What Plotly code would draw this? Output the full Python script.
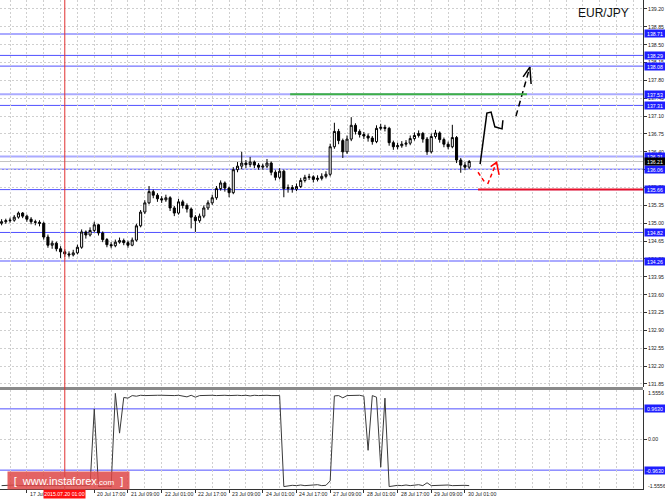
import plotly.graph_objects as go

# ---------------- data ----------------
bar_idx = list(range(112))  # H2-like bars, 16 Jul 17:00 .. 30 Jul

opens = [135.00,135.03,135.05,135.06,135.12,135.20,135.14,135.08,135.03,135.02,
         135.00,134.73,134.57,134.61,134.50,134.44,134.40,134.38,134.42,134.53,
         134.83,134.77,134.86,134.97,134.81,134.68,134.58,134.56,134.63,134.66,
         134.62,134.57,134.67,134.95,135.22,135.40,135.62,135.55,135.48,135.46,
         135.50,135.30,135.20,135.42,135.35,135.28,135.12,135.05,135.14,135.30,
         135.40,135.50,135.68,135.79,135.69,135.60,136.05,136.12,136.18,136.15,
         136.20,136.14,136.10,136.12,136.18,136.00,135.90,136.02,135.68,135.70,
         135.67,135.72,135.84,135.90,135.91,135.86,135.88,135.92,135.96,136.50,
         136.80,136.62,136.40,136.65,136.92,136.80,136.74,136.71,136.67,136.60,
         136.86,136.88,136.86,136.58,136.50,136.52,136.55,136.57,136.66,136.72,
         136.76,136.65,136.40,136.70,136.77,136.64,136.55,136.50,136.68,136.24,
         136.14,136.10]

closes = [135.03,135.05,135.06,135.12,135.20,135.14,135.08,135.03,135.02,135.00,
          134.73,134.57,134.61,134.50,134.44,134.40,134.38,134.42,134.53,134.83,
          134.77,134.86,134.97,134.81,134.68,134.58,134.56,134.63,134.66,134.62,
          134.57,134.67,134.95,135.22,135.40,135.62,135.55,135.48,135.46,135.50,
          135.30,135.20,135.42,135.35,135.28,135.12,135.05,135.14,135.30,135.40,
          135.50,135.68,135.79,135.69,135.60,136.05,136.12,136.18,136.15,136.20,
          136.14,136.10,136.12,136.18,136.00,135.90,136.02,135.68,135.70,135.67,
          135.72,135.84,135.90,135.91,135.86,135.88,135.92,135.96,136.50,136.80,
          136.62,136.40,136.65,136.92,136.80,136.74,136.71,136.67,136.60,136.86,
          136.88,136.86,136.58,136.50,136.52,136.55,136.57,136.66,136.72,136.76,
          136.65,136.40,136.70,136.77,136.64,136.55,136.50,136.68,136.24,136.14,
          136.10,136.21]

highs = [135.08,135.09,135.11,135.16,135.23,135.22,135.17,135.12,135.07,135.06,
         135.03,134.78,134.66,134.64,134.55,134.49,134.45,134.48,134.58,134.88,
         134.86,134.92,135.03,134.99,134.84,134.71,134.63,134.68,134.72,134.70,
         134.66,134.72,134.99,135.26,135.45,135.73,135.66,135.59,135.53,135.56,
         135.53,135.34,135.48,135.46,135.39,135.31,135.16,135.19,135.35,135.45,
         135.56,135.73,135.84,135.82,135.72,136.10,136.20,136.40,136.24,136.30,
         136.23,136.18,136.17,136.26,136.21,136.04,136.08,136.05,135.76,135.75,
         135.78,135.89,135.95,135.97,135.94,135.94,135.98,136.02,136.56,136.97,
         136.85,136.66,136.72,137.08,136.96,136.84,136.79,136.76,136.71,136.92,
         136.95,136.93,136.89,136.62,136.58,136.61,136.63,136.72,136.78,136.82,
         136.79,136.69,136.76,136.83,136.80,136.68,136.60,136.93,136.71,136.28,
         136.20,136.24]

lows = [134.96,134.99,135.01,135.03,135.09,135.10,135.03,134.98,134.96,134.94,
        134.68,134.52,134.50,134.45,134.32,134.34,134.33,134.35,134.39,134.50,
        134.70,134.74,134.82,134.76,134.63,134.53,134.51,134.53,134.60,134.57,
        134.52,134.55,134.64,134.92,135.18,135.37,135.49,135.42,135.40,135.42,
        135.24,135.14,135.17,135.29,135.21,134.90,134.83,135.01,135.10,135.26,
        135.36,135.46,135.64,135.62,135.51,135.57,136.00,136.06,136.08,136.10,
        136.08,136.05,136.05,136.08,135.94,135.84,135.86,135.51,135.60,135.60,
        135.63,135.69,135.80,135.85,135.80,135.82,135.84,135.88,135.92,136.46,
        136.55,136.28,136.36,136.61,136.74,136.68,136.65,136.60,136.54,136.57,
        136.82,136.80,136.52,136.44,136.45,136.48,136.50,136.53,136.62,136.68,
        136.58,136.34,136.37,136.66,136.58,136.49,136.45,136.47,136.18,135.99,
        136.04,136.06]

indicator = [-1.45,-1.44,-1.45,-1.43,-1.45,-1.44,-1.45,-1.45,-1.44,-1.45,
             -1.45,-1.44,-1.45,-1.45,-1.44,-1.45,-1.45,-1.44,-1.45,-1.45,
             -1.44,-1.45, 0.96,-1.48,-1.47,-1.46,-1.48, 1.45, 0.20, 1.32,
             1.30, 1.38, 1.36, 1.39, 1.38, 1.39, 1.38, 1.39, 1.39, 1.38,
             1.39, 1.38, 1.39, 1.37, 1.34, 1.39, 1.33, 1.38, 1.39, 1.38,
             1.39, 1.38, 1.39, 1.39, 1.38, 1.39, 1.39, 1.38, 1.39, 1.37,
             1.39, 1.38, 1.39, 1.39, 1.38, 1.39, 1.38,-1.48,-1.45,-1.44,
             -1.45,-1.43,-1.45,-1.44,-1.45,-1.42,-1.45,-1.44,-1.30, 1.37,
             1.38, 1.31, 1.38, 1.39, 1.38, 1.39, 1.36,-0.34, 1.38, 1.33,
             -0.87, 1.30,-1.48,-1.45,-1.44,-1.45,-1.43,-1.45,-1.44,-1.42,
             -1.45,-1.36,-1.45,-1.44,-1.45,-1.44,-1.43,-1.45,-1.44,-1.45,
             -1.44,-1.45]

# horizontal levels
blue_levels = [138.71, 138.29, 138.08, 137.53, 137.31, 136.31, 136.06, 135.66, 134.82, 134.26]
light_levels = [138.71, 137.53, 136.31, 134.26]
ind_levels = [0.9630, -0.9630]
green_level = 137.53
green_from, green_to = 68.5, 124.7
red_level = 135.66
red_from = 113.1

# price axis ticks (136.05 is fully hidden behind the level boxes in the reference)
price_ticks = [139.20, 138.85, 138.50, 138.15, 137.80, 137.45, 137.10, 136.75, 136.40, 136.05, 135.70,
               135.35, 135.00, 134.65, 134.30, 133.95, 133.60, 133.25, 132.90, 132.55, 132.20, 131.85]
price_tick_text = ["139.20", "138.85", "138.50", "138.15", "137.80", "137.45", "137.10", "136.75", "136.40",
                   "", "135.70", "135.35", "135.00", "134.65", "134.30", "133.95", "133.60", "133.25",
                   "132.90", "132.55", "132.20", "131.85"]

# time axis ticks (the 20 Jul 01:00 slot is covered by the vertical-line label)
time_tick_pos = [-2, 6, 14, 22, 30, 38, 46, 54, 62, 70, 78, 86, 94, 102, 110]
time_tick_text = ["16 Jul 17:00", "17 Jul 09:00", "", "20 Jul 17:00", "21 Jul 09:00",
                  "22 Jul 01:00", "22 Jul 17:00", "23 Jul 09:00", "24 Jul 01:00", "24 Jul 17:00",
                  "27 Jul 09:00", "28 Jul 01:00", "28 Jul 17:00", "29 Jul 09:00", "30 Jul 01:00"]
vline_pos = 15
vline_label = "2015.07.20 01:00"

# forecast drawings (bar index, price)
fc_black_x = [113.6, 115.2, 116.2, 117.1, 118.8, 119.0]
fc_black_y = [136.16, 137.16, 137.18, 136.89, 136.85, 137.02]
fc_dash_x = [122.1, 125.4]
fc_dash_y = [137.10, 138.06]
fc_dash_head_x = [123.8, 125.4, 125.7]
fc_dash_head_y = [137.87, 138.06, 137.73]
fc_red_x = [113.1, 114.8, None, 115.4, 117.5]
fc_red_y = [136.00, 135.79, None, 135.77, 136.195]
fc_red_head_x = [116.1, 117.5, 118.1]
fc_red_head_y = [136.11, 136.195, 135.95]

# ---------------- layout geometry ----------------
W, H = 665, 499
MR, MB = 22, 10
PLOT_H = H - MB               # 489
MAIN_BOTTOM_PX = 387
IND_TOP_PX = 390
PX_PER_BAR = 4.2125
X0 = -1.6 / PX_PER_BAR
X1 = X0 + (W - MR) / PX_PER_BAR
PRICE_TOP = 139.376
PRICE_BOTTOM = 131.791
IND_MAX, IND_MIN = 1.5556, -1.5556

FONT = "Liberation Sans, Arial, sans-serif"
SMALL = 5.2
GRID = "#cfcfcf"
GRID_DASH = "2px,2px"
BLUE = "rgb(80,80,255)"
LIGHT_BLUE = "rgb(170,170,255)"
LABEL_BLUE = "#1e1eff"

fig = go.Figure()

fig.add_trace(go.Candlestick(
    x=bar_idx, open=opens, high=highs, low=lows, close=closes,
    increasing=dict(line=dict(color="black", width=1), fillcolor="white"),
    decreasing=dict(line=dict(color="black", width=1), fillcolor="black"),
    whiskerwidth=0, xaxis="x", yaxis="y", hoverinfo="skip", showlegend=False))

fig.add_trace(go.Scatter(x=bar_idx, y=indicator, mode="lines",
                         line=dict(color="#3a3a3a", width=1), xaxis="x", yaxis="y2",
                         hoverinfo="skip", showlegend=False))

# forecast drawings
fig.add_trace(go.Scatter(x=fc_black_x, y=fc_black_y, mode="lines",
                         line=dict(color="black", width=1.5), xaxis="x", yaxis="y",
                         hoverinfo="skip", showlegend=False))
fig.add_trace(go.Scatter(x=fc_dash_x, y=fc_dash_y, mode="lines",
                         line=dict(color="black", width=1.5, dash="6px,4px"), xaxis="x", yaxis="y",
                         hoverinfo="skip", showlegend=False))
fig.add_trace(go.Scatter(x=fc_dash_head_x, y=fc_dash_head_y, mode="lines",
                         line=dict(color="black", width=1.5), xaxis="x", yaxis="y",
                         hoverinfo="skip", showlegend=False))
fig.add_trace(go.Scatter(x=fc_red_x, y=fc_red_y, mode="lines", connectgaps=False,
                         line=dict(color="red", width=1.5, dash="4px,3px"), xaxis="x", yaxis="y",
                         hoverinfo="skip", showlegend=False))
fig.add_trace(go.Scatter(x=fc_red_head_x, y=fc_red_head_y, mode="lines",
                         line=dict(color="red", width=1.5), xaxis="x", yaxis="y",
                         hoverinfo="skip", showlegend=False))

shapes = []
for lv in blue_levels:
    light = lv in light_levels
    shapes.append(dict(type="line", xref="paper", x0=0, x1=1, yref="y", y0=lv, y1=lv,
                       line=dict(color=LIGHT_BLUE if light else BLUE, width=2 if light else 1),
                       layer="below"))
for lv in ind_levels:
    shapes.append(dict(type="line", xref="paper", x0=0, x1=1, yref="y2", y0=lv, y1=lv,
                       line=dict(color=BLUE, width=1), layer="below"))
# current price line
shapes.append(dict(type="line", xref="paper", x0=0, x1=1, yref="y", y0=closes[-1], y1=closes[-1],
                   line=dict(color="#c4c4c4", width=1), layer="below"))
# green and red levels
shapes.append(dict(type="line", xref="x", x0=green_from, x1=green_to, yref="y", y0=green_level,
                   y1=green_level, line=dict(color="#3cb044", width=2)))
shapes.append(dict(type="line", xref="x", x0=red_from, x1=X1, yref="y", y0=red_level,
                   y1=red_level, line=dict(color="#e8102a", width=2)))
# separator between panels
sep_y = (PLOT_H - (MAIN_BOTTOM_PX + 1.5)) / PLOT_H
shapes.append(dict(type="line", xref="paper", x0=0, x1=1, yref="paper", y0=sep_y, y1=sep_y,
                   line=dict(color="#8a8a8a", width=3)))
# vertical marker line
shapes.append(dict(type="line", xref="x", x0=vline_pos, x1=vline_pos, yref="paper", y0=-0.01, y1=1,
                   line=dict(color="#e03030", width=1)))

annotations = []
# time labels
lab_y = (PLOT_H - 494) / PLOT_H
for pos, txt in zip(time_tick_pos, time_tick_text):
    if not txt:
        continue
    annotations.append(dict(x=pos, xref="x", y=lab_y, yref="paper", text=txt, showarrow=False,
                            xanchor="left", yanchor="middle", xshift=1,
                            font=dict(family=FONT, size=SMALL, color="#222")))
# vertical line time box
annotations.append(dict(x=vline_pos, xref="x", y=lab_y, yref="paper", text=vline_label,
                        showarrow=False, xanchor="center", yanchor="middle",
                        bgcolor="#ff1010", width=41, height=8, borderpad=0,
                        font=dict(family=FONT, size=SMALL, color="white")))
# level boxes on the price scale
for lv in blue_levels:
    annotations.append(dict(x=1, xref="paper", y=lv, yref="y", text=f"{lv:.2f}", showarrow=False,
                            xanchor="left", yanchor="middle", xshift=1, bgcolor=LABEL_BLUE,
                            width=20, height=7, borderpad=0,
                            font=dict(family=FONT, size=SMALL, color="white")))
annotations.append(dict(x=1, xref="paper", y=closes[-1], yref="y", text=f"{closes[-1]:.2f}",
                        showarrow=False, xanchor="left", yanchor="middle", xshift=1, bgcolor="black",
                        width=20, height=7, borderpad=0,
                        font=dict(family=FONT, size=SMALL, color="white")))
for lv in ind_levels:
    annotations.append(dict(x=1, xref="paper", y=lv, yref="y2", text=f"{lv:.4f}", showarrow=False,
                            xanchor="left", yanchor="middle", xshift=1, bgcolor=LABEL_BLUE,
                            width=20, height=7, borderpad=0,
                            font=dict(family=FONT, size=SMALL, color="white")))
# indicator scale end labels
for val, py in [(IND_MAX, 393), (IND_MIN, 486)]:
    annotations.append(dict(x=1, xref="paper", y=(PLOT_H - py) / PLOT_H, yref="paper",
                            text=f"{val:.4f}", showarrow=False, xanchor="left", yanchor="middle",
                            xshift=3, font=dict(family=FONT, size=SMALL, color="#222")))
# symbol
annotations.append(dict(x=603 / (W - MR), xref="paper", y=(PLOT_H - 13) / PLOT_H, yref="paper",
                        text="EUR/JPY", showarrow=False, xanchor="center", yanchor="middle",
                        font=dict(family=FONT, size=12, color="#111")))
# watermark
annotations.append(dict(x=68.5 / (W - MR), xref="paper", y=(PLOT_H - 480.5) / PLOT_H, yref="paper",
                        text="[  www.instaforex<span style='font-size:8px'>.com</span>  ]",
                        showarrow=False, xanchor="center", yanchor="middle",
                        bgcolor="rgba(222,72,72,0.85)", width=121, height=17, borderpad=0,
                        font=dict(family=FONT, size=11, color="white")))

fig.update_layout(
    width=W, height=H,
    margin=dict(l=0, r=MR, t=0, b=MB, pad=0),
    paper_bgcolor="white", plot_bgcolor="white",
    showlegend=False,
    shapes=shapes, annotations=annotations,
    xaxis=dict(range=[X0, X1], anchor="y2", rangeslider=dict(visible=False),
               tickmode="array", tickvals=time_tick_pos, showticklabels=False,
               ticks="outside", ticklen=3, tickcolor="#333",
               showgrid=True, gridcolor=GRID, griddash=GRID_DASH, gridwidth=1,
               minor=dict(tickmode="linear", tick0=-2, dtick=4, showgrid=True,
                          gridcolor=GRID, griddash=GRID_DASH, ticks=""),
               showline=True, linecolor="#333", linewidth=1, zeroline=False, fixedrange=True),
    yaxis=dict(domain=[(PLOT_H - MAIN_BOTTOM_PX) / PLOT_H, 1], range=[PRICE_BOTTOM, PRICE_TOP],
               side="right", anchor="x", tickmode="array", tickvals=price_ticks,
               ticktext=price_tick_text, ticks="outside", ticklen=3, tickcolor="#333",
               tickfont=dict(family=FONT, size=SMALL, color="#222"),
               showgrid=True, gridcolor=GRID, griddash=GRID_DASH, gridwidth=1,
               showline=True, linecolor="#333", linewidth=1, zeroline=False, fixedrange=True),
    yaxis2=dict(domain=[0, (PLOT_H - IND_TOP_PX) / PLOT_H], range=[IND_MIN, IND_MAX],
                side="right", anchor="x", tickmode="array", tickvals=[0], ticktext=["0.00"],
                ticks="outside", ticklen=3, tickcolor="#333",
                tickfont=dict(family=FONT, size=SMALL, color="#222"),
                showgrid=True, gridcolor=GRID, griddash=GRID_DASH, gridwidth=1,
                showline=True, linecolor="#333", linewidth=1, zeroline=False, fixedrange=True),
)

fig.write_html("out.html", config={"displayModeBar": False, "staticPlot": True},
               post_script="document.body.style.margin='0';document.body.style.overflow='hidden';")
